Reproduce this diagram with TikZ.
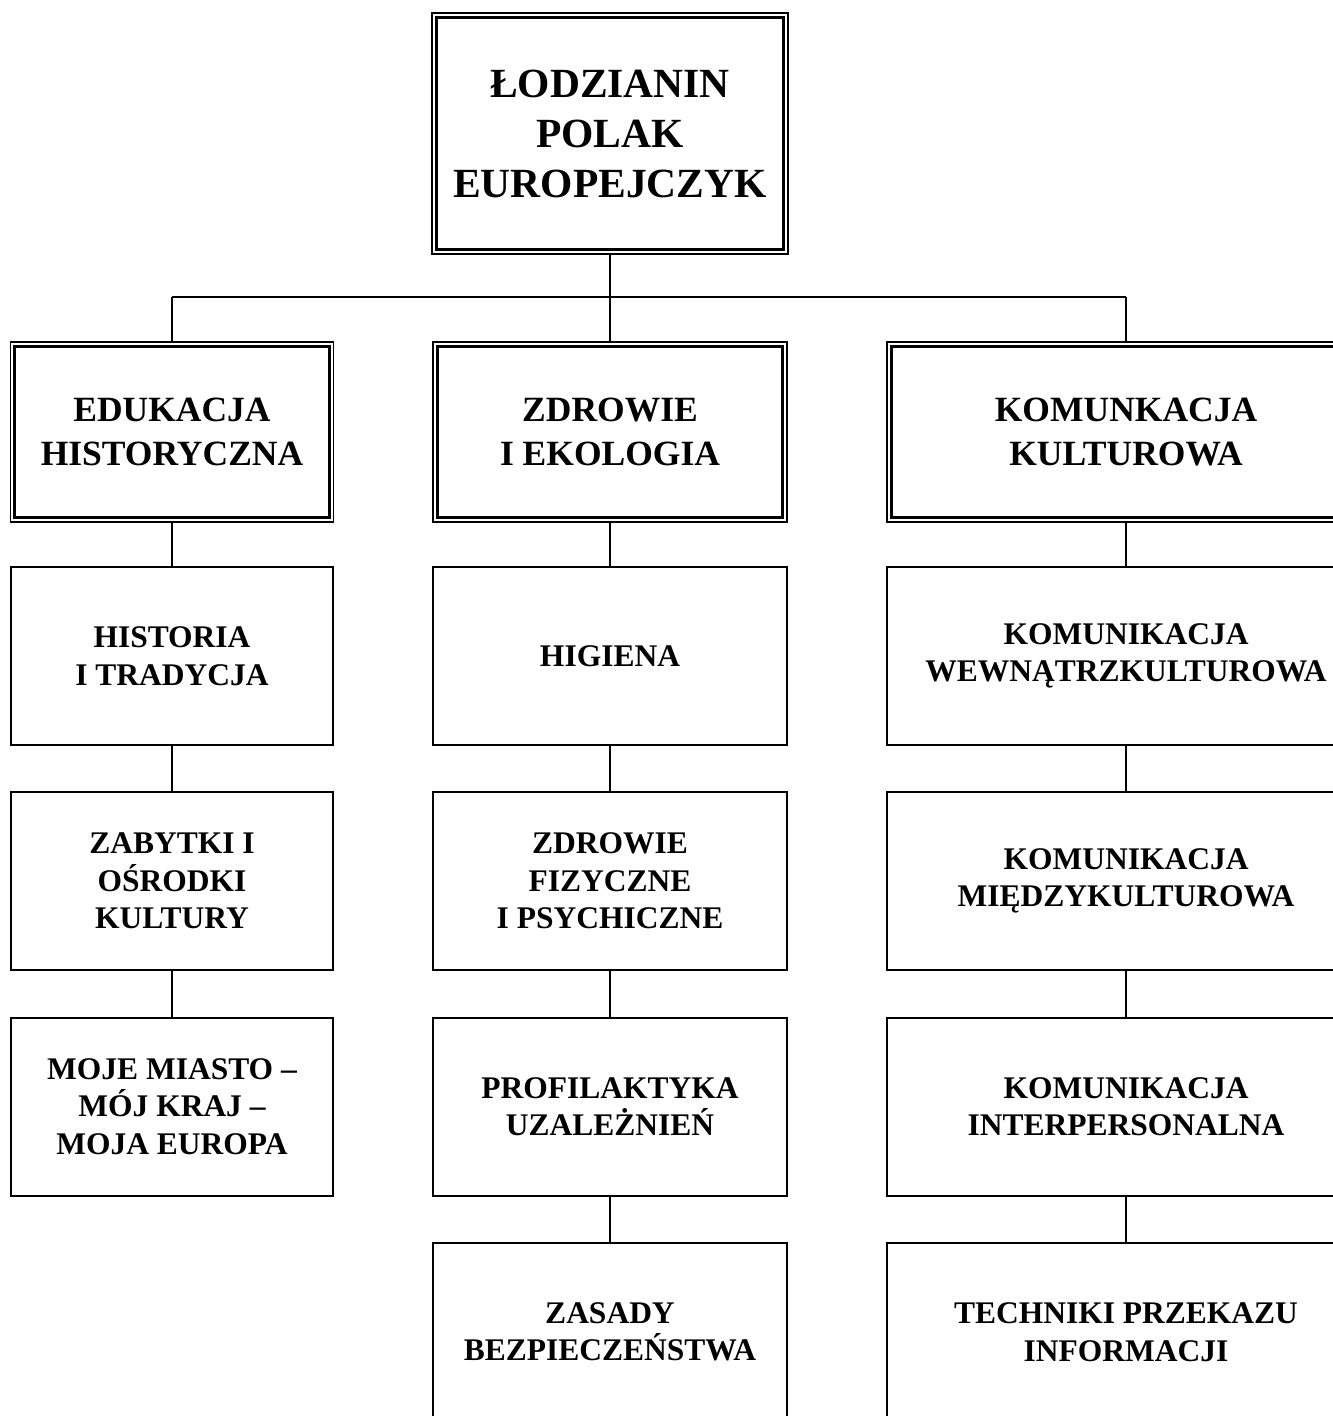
\documentclass[tikz,border=0pt]{standalone}
\usepackage{fontspec}
\setmainfont{Liberation Serif}
\tikzset{
  basebox/.style={draw, inner sep=0pt, align=center, font=\bfseries\fontsize{31.5}{37.5}\selectfont},
  topbox/.style={basebox, line width=1.3pt, minimum width=356pt, minimum height=241pt, font=\bfseries\fontsize{41.5}{50}\selectfont},
  catbox/.style={basebox, line width=1.3pt, minimum height=180pt, font=\bfseries\fontsize{35.5}{43.5}\selectfont},
  subbox/.style={basebox, line width=2pt, minimum height=178pt},
  inner/.style={line width=3pt},
  conn/.style={line width=2pt},
  wl/.style={minimum width=322pt},
  wm/.style={minimum width=354pt},
  wr/.style={minimum width=478pt}
}
\begin{document}
\begin{tikzpicture}[x=1pt,y=-1pt]
\useasboundingbox (0,0) rectangle (1333,1416);
\clip (0,0) rectangle (1333,1416);
\fill[white] (0,0) rectangle (1333,1416);

% top
\node[topbox] (top) at (610,133.5) {ŁODZIANIN\\POLAK\\EUROPEJCZYK};
\draw[inner] ([shift={(5,5)}]top.north west) rectangle ([shift={(-5,-5)}]top.south east);

% categories
\node[catbox, minimum width=323pt] (e1) at (172,432) {EDUKACJA\\HISTORYCZNA};
\node[catbox, wm] (e2) at (610,432) {ZDROWIE\\I EKOLOGIA};
\node[catbox, wr] (e3) at (1126,432) {KOMUNKACJA\\KULTUROWA};
\foreach \n in {e1,e2,e3}{
  \draw[inner] ([shift={(5,5)}]\n.north west) rectangle ([shift={(-5,-5)}]\n.south east);
}

% left column
\node[subbox, wl] (l1) at (172,656) {HISTORIA\\I TRADYCJA};
\node[subbox, wl] (l2) at (172,881) {ZABYTKI I\\OŚRODKI\\KULTURY};
\node[subbox, wl] (l3) at (172,1106.5) {MOJE MIASTO –\\MÓJ KRAJ –\\MOJA EUROPA};

% middle column
\node[subbox, wm] (m1) at (610,656) {HIGIENA};
\node[subbox, wm] (m2) at (610,881) {ZDROWIE\\FIZYCZNE\\I PSYCHICZNE};
\node[subbox, wm] (m3) at (610,1106.5) {PROFILAKTYKA\\UZALEŻNIEŃ};
\node[subbox, wm] (m4) at (610,1332) {ZASADY\\BEZPIECZEŃSTWA};

% right column
\node[subbox, wr] (r1) at (1126,656) {KOMUNIKACJA\\WEWNĄTRZKULTUROWA};
\node[subbox, wr] (r2) at (1126,881) {KOMUNIKACJA\\MIĘDZYKULTUROWA};
\node[subbox, wr] (r3) at (1126,1106.5) {KOMUNIKACJA\\INTERPERSONALNA};
\node[subbox, wr] (r4) at (1126,1332) {TECHNIKI PRZEKAZU\\INFORMACJI};

% connectors
\coordinate (j) at (610,297);
\coordinate (jl) at (172,297);
\coordinate (jr) at (1126,297);
\draw[conn] (top.south) -- (j);
\draw[conn] (jl) -- (jr);
\draw[conn] (jl) -- (e1.north);
\draw[conn] (j) -- (e2.north);
\draw[conn] (jr) -- (e3.north);

\draw[conn] (e1.south) -- (l1.north);
\draw[conn] (l1.south) -- (l2.north);
\draw[conn] (l2.south) -- (l3.north);

\draw[conn] (e2.south) -- (m1.north);
\draw[conn] (m1.south) -- (m2.north);
\draw[conn] (m2.south) -- (m3.north);
\draw[conn] (m3.south) -- (m4.north);

\draw[conn] (e3.south) -- (r1.north);
\draw[conn] (r1.south) -- (r2.north);
\draw[conn] (r2.south) -- (r3.north);
\draw[conn] (r3.south) -- (r4.north);
\end{tikzpicture}
\end{document}
